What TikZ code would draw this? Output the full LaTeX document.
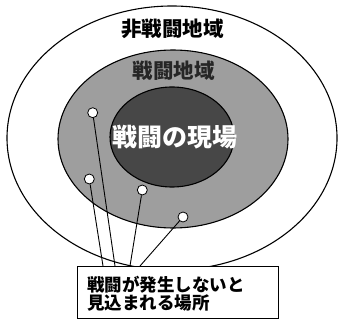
\documentclass[tikz,border=0pt]{standalone}
\usepackage{fontspec}
\newfontfamily\jp{Noto Sans CJK JP}
\tikzset{
  ring/.style={draw=black, line width=1.1pt},
  dot/.style={circle, draw=black, fill=white, line width=0.8pt, minimum size=10pt, inner sep=0pt},
  lead/.style={draw=black, line width=0.9pt},
  lbox/.style={draw=black, fill=white, line width=0.9pt, minimum width=201pt, minimum height=52pt, inner sep=0pt},
  ltext/.style={font=\jp\bfseries\fontsize{17.5}{18}\selectfont, anchor=west, inner sep=0pt},
  ttl/.style={font=\jp\bfseries\fontsize{20.5}{22}\selectfont, inner sep=0pt},
}
\begin{document}
\begin{tikzpicture}[x=1pt,y=-1pt]
\useasboundingbox (0,0) rectangle (339,320);
% regions
\draw[ring] (172,138) ellipse [x radius=165pt, y radius=132pt];
\draw[ring, fill=black!38] (173,139) ellipse [x radius=115pt, y radius=89pt];
\draw[ring, fill=black!72] (172,137) ellipse [x radius=62pt, y radius=50pt];
% titles
\node[ttl] (t1) at (172.5,29) {非戦闘地域};
\node[ttl, text=black!85] (t2) at (173.5,71) {戦闘地域};
\node[font=\jp\bfseries\fontsize{25}{26}\selectfont, inner sep=0pt, text=white] (t3) at (175,137) {戦闘の現場};
% label box and leaders
\coordinate (e1) at (115,266);
\coordinate (e2) at (103,266);
\coordinate (e3) at (130,266);
\coordinate (e4) at (140,266);
\node[dot] (d1) at (92.7,112.7) {};
\node[dot] (d2) at (89.3,179) {};
\node[dot] (d3) at (142.3,190) {};
\node[dot] (d4) at (183,217) {};
\draw[lead] (d1) -- (e1);
\draw[lead] (d2) -- (e2);
\draw[lead] (d3) -- (e3);
\draw[lead] (d4) -- (e4);
\node[lbox] (lb) at (177.5,292) {};
\node[ltext] (l1) at (87,284.5) {戦闘が発生しないと};
\node[ltext] (l2) at (87,302.5) {見込まれる場所};
\end{tikzpicture}
\end{document}
